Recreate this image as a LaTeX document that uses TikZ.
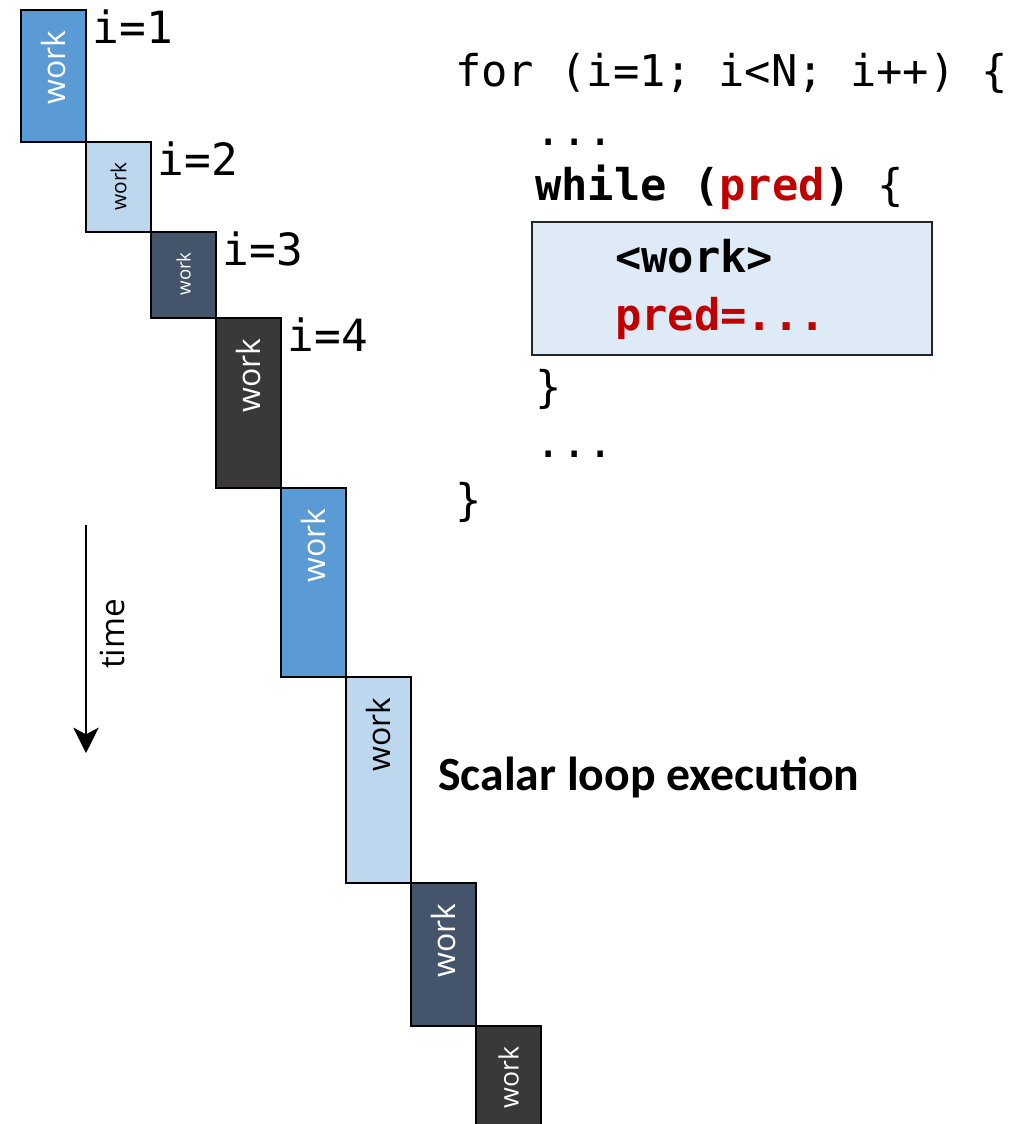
\documentclass[tikz,border=0pt]{standalone}
\usepackage{fontspec}
\setmainfont{Open Sans}
\setmonofont{DejaVu Sans Mono}
\newfontfamily\captionfont{Carlito}
\usetikzlibrary{positioning, arrows.meta}
\definecolor{workblue}{HTML}{5B9BD5}
\definecolor{worklight}{HTML}{BDD7EE}
\definecolor{workslate}{HTML}{44546A}
\definecolor{workdark}{HTML}{3A3838}
\definecolor{predred}{HTML}{C00000}
\definecolor{bodyfill}{HTML}{DEEBF7}
\tikzset{
    >={Stealth[length=19pt, width=19pt, inset=5pt]}, % head of the time axis
    workbox/.style={draw=black, line width=2pt, minimum width=48.75pt, inner sep=0pt, outer sep=0pt, anchor=north west}, % one iteration of the loop
    worktext/.style={rotate=90, anchor=east, inner sep=0pt, text=white}, % 'work' written upwards in a block
    iterlabel/.style={font=\ttfamily\fontsize{33.3}{33.3}\selectfont, anchor=base west, inner sep=0pt, xshift=5pt, yshift=-25pt}, % i=k beside a block
    code/.style={font=\ttfamily\fontsize{32.8}{32.8}\selectfont, anchor=base west, inner sep=0pt}, % one line of the source
}

\begin{document}
\begin{tikzpicture}[x=0.75pt, y=-0.75pt]
    \path[use as bounding box] (0,0) rectangle (1030,1124);
    \clip (0,0) rectangle (1030,1124);

    % iterations, each one starting where the previous one ends
    \node[workbox, fill=workblue, minimum height=99pt] (w1) at (21,10) {};
    \node[workbox, fill=worklight, minimum height=67.5pt] (w2) at (w1.south east) {};
    \node[workbox, fill=workslate, minimum height=64.5pt] (w3) at (w2.south east) {};
    \node[workbox, fill=workdark, minimum height=127.5pt] (w4) at (w3.south east) {};
    \node[workbox, fill=workblue, minimum height=141.75pt] (w5) at (w4.south east) {};
    \node[workbox, fill=worklight, minimum height=154.5pt] (w6) at (w5.south east) {};
    \node[workbox, fill=workslate, minimum height=107.25pt] (w7) at (w6.south east) {};
    \node[workbox, fill=workdark, minimum height=90pt] (w8) at (w7.south east) {};

    \node[worktext, font=\fontsize{24}{24}\selectfont] (t1) at ([yshift=-15pt]w1.north) {work};
    \node[worktext, text=black, font=\fontsize{15.6}{15.6}\selectfont] (t2) at ([yshift=-15pt]w2.north) {work};
    \node[worktext, font=\fontsize{14}{14}\selectfont] (t3) at ([yshift=-15pt]w3.north) {work};
    \node[worktext, font=\fontsize{24}{24}\selectfont] (t4) at ([yshift=-15pt]w4.north) {work};
    \node[worktext, font=\fontsize{24}{24}\selectfont] (t5) at ([yshift=-15pt]w5.north) {work};
    \node[worktext, text=black, font=\fontsize{24}{24}\selectfont] (t6) at ([yshift=-15pt]w6.north) {work};
    \node[worktext, font=\fontsize{24}{24}\selectfont] (t7) at ([yshift=-15pt]w7.north) {work};
    \node[worktext, font=\fontsize{20}{20}\selectfont] (t8) at ([yshift=-15pt]w8.north) {work};

    \node[iterlabel] (i1) at (w1.north east) {i=1};
    \node[iterlabel] (i2) at (w2.north east) {i=2};
    \node[iterlabel] (i3) at (w3.north east) {i=3};
    \node[iterlabel] (i4) at (w4.north east) {i=4};

    % time axis
    \coordinate (tstart) at (86,525);
    \coordinate (tend) at (86,753);
    \draw[->, line width=1.5pt] (tstart) -- (tend);
    \node[rotate=90, inner sep=0pt, font=\fontsize{25}{25}\selectfont] (timelabel) at (112,634) {time};

    % body of the inner loop
    \node[draw=black!85, fill=bodyfill, line width=1.8pt, minimum width=300pt, minimum height=99.75pt,
          inner sep=0pt, outer sep=0pt, anchor=north west] (body) at (532,222) {};

    \node[code] (c1) at (455,87) {for (i=1; i<N; i++) \{};
    \node[code] (c2) at (535,145) {...};
    \node[code] (c3) at (535,200) {\textbf{while (\textcolor{predred}{pred})} \{};
    \node[code] (c4) at (615,272) {\textbf{<work>}};
    \node[code, text=predred] (c5) at (615,330) {\textbf{pred=...}};
    \node[code] (c6) at (535,402) {\}};
    \node[code] (c7) at (535,457) {...};
    \node[code] (c8) at (455,515) {\}};

    \node[anchor=base west, inner sep=0pt, font=\captionfont\bfseries\fontsize{35.8}{35.8}\selectfont] (caption) at (438,790) {Scalar loop execution};
\end{tikzpicture}
\end{document}
